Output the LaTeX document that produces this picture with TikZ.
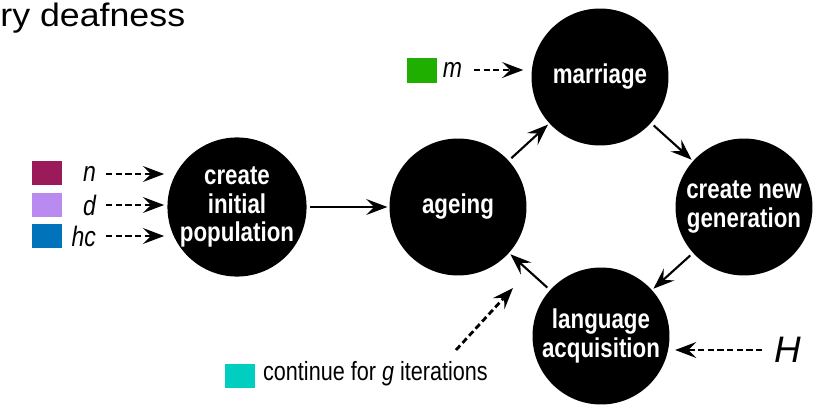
\documentclass[tikz,border=0pt]{standalone}
\usepackage{fontspec}
\setmainfont{Liberation Sans}
\newfontfamily\narrowfont[FakeStretch=0.82]{Liberation Sans}
\newfontfamily\widefont[FakeStretch=1.1]{Liberation Sans}
\usetikzlibrary{arrows.meta}
\definecolor{colN}{HTML}{9B1B5A}
\definecolor{colD}{HTML}{B98AF0}
\definecolor{colHC}{HTML}{0073BA}
\definecolor{colM}{HTML}{1FAF00}
\definecolor{colG}{HTML}{00CEC1}
\tikzset{
	stage/.style={circle,fill=black,text=white,minimum size=2.74cm,inner sep=0pt,align=center,font=\narrowfont\bfseries\fontsize{15.5pt}{16pt}\selectfont},
	lbl/.style={inner sep=1.5pt,font=\narrowfont\itshape\fontsize{16pt}{18pt}\selectfont},
	swatch/.style={minimum width=0.59cm,minimum height=0.5cm,inner sep=0pt},
	dashar/.style={->,line width=1.6pt,dash pattern=on 3.5pt off 2pt},
	solidar/.style={->,line width=1.2pt,shorten <=2pt,shorten >=1pt}
}
\begin{document}
\begin{tikzpicture}[>={Stealth[length=12pt,width=9pt,inset=4.5pt]},x=0.02cm,y=-0.02cm]
		\useasboundingbox (0,0) rectangle (821,405);
		\node[anchor=base west,inner sep=0pt,font=\widefont\fontsize{18.5pt}{22pt}\selectfont] (title) at (0,27) {ry deafness};
		% stages
		\node[stage] (initial) at (237,207) {create\\initial\\population};
		\node[stage] (ageing) at (458,207) {ageing};
		\node[stage] (marriage) at (600,77) {marriage};
		\node[stage] (newgen) at (744,207) {create new\\generation};
		\node[stage] (lang) at (601,336) {language\\acquisition};
		\draw[solidar] (initial) -- (ageing);
		\draw[solidar] (ageing) -- (marriage);
		\draw[solidar] (marriage) -- (newgen);
		\draw[solidar] (newgen) -- (lang);
		\draw[solidar] (lang) -- (ageing);
		% parameters
		\node[swatch,fill=colN] (sqn) at (47,173) {};
		\node[swatch,fill=colD] (sqd) at (47,205) {};
		\node[swatch,fill=colHC] (sqhc) at (47,236) {};
		\node[lbl,anchor=east] (n) at (99,174) {n};
		\node[lbl,anchor=east] (d) at (99,205) {d};
		\node[lbl,anchor=east] (hc) at (99,236) {hc};
		\draw[dashar,shorten <=4pt,shorten >=1.7pt] (n.east) -- (n.east -| initial.west);
		\draw[dashar,shorten <=4pt,shorten >=1.7pt] (d.east) -- (d.east -| initial.west);
		\draw[dashar,shorten <=4pt,shorten >=1.7pt] (hc.east) -- (hc.east -| initial.west);
		\node[swatch,fill=colM,minimum height=0.5cm] (sqm) at (422,71) {};
		\node[lbl,anchor=west] (m) at (440,70) {m};
		\draw[dashar,shorten <=5pt,shorten >=4.5pt] (m.east) -- (m.east -| marriage.west);
		\node[lbl,anchor=west,inner sep=2pt,font=\itshape\fontsize{21pt}{24pt}\selectfont] (H) at (771,350) {H};
		\draw[dashar,shorten <=5pt,shorten >=3pt] (H.west) -- (H.west -| lang.east);
		\node[swatch,fill=colG] (sqg) at (240,376) {};
		\node[anchor=west,inner sep=1pt,font=\narrowfont\fontsize{15pt}{17pt}\selectfont] (iter) at (261,374) {continue for \textit{g} iterations};
		\coordinate (gfrom) at (456,350);
		\coordinate (gto) at (513,288);
		\draw[dashar] (gfrom) -- (gto);
		\end{tikzpicture}
\end{document}
